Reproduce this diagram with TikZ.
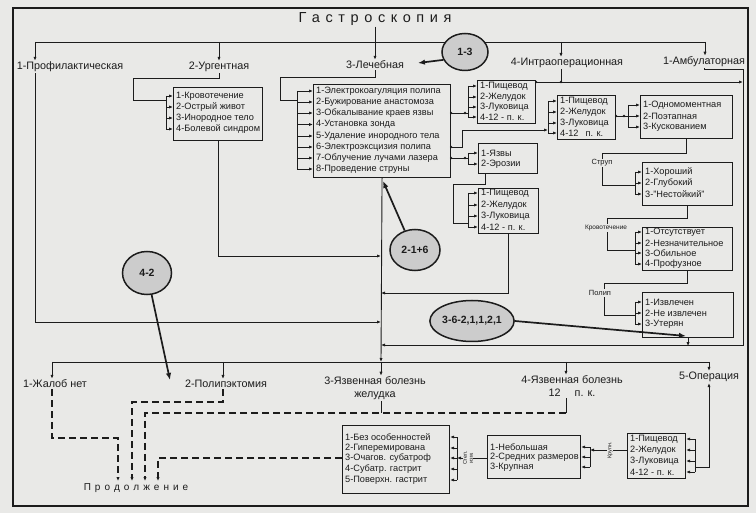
\documentclass[tikz,border=0pt]{standalone}
\usepackage{fontspec}
\setmainfont{Liberation Sans}
\usetikzlibrary{arrows.meta,shapes.geometric,calc}
\definecolor{paper}{RGB}{233,233,231}
\definecolor{ink}{RGB}{28,28,28}
\definecolor{ovalfill}{RGB}{204,204,204}
\newcommand{\lsp}[2]{#1\kern#2}
\tikzset{
  conn/.style={draw=ink, line width=0.9pt},
  arr/.style={conn, -{Latex[length=4pt,width=3.2pt]}},
  larr/.style={conn, {Latex[length=4pt,width=3.2pt]}-},
  darr/.style={conn, line width=1.1pt, dash pattern=on 7pt off 4pt, -{Latex[length=4pt,width=3.4pt]}},
  bigarr/.style={draw=ink, line width=1.7pt, -{Latex[length=7pt,width=5.5pt]}},
  listbox/.style={draw=ink, line width=1.1pt, anchor=north west, inner sep=0pt},
  item/.style={font=\fontsize{9.2}{10}\selectfont, anchor=west, inner sep=1pt, text=ink},
  head/.style={font=\fontsize{10.8}{13}\selectfont, inner sep=1pt, text=ink},
  small/.style={font=\fontsize{7.5}{8}\selectfont, inner sep=1pt, fill=paper, text=ink},
  tiny/.style={font=\fontsize{5.5}{6}\selectfont, inner sep=0.5pt, fill=paper, text=ink, align=center},
  oval/.style={ellipse, draw=ink, line width=1.5pt, fill=ovalfill, text=ink,
    font=\bfseries\fontsize{10.5}{12}\selectfont, inner sep=0pt},
  jdot/.style={circle, fill=ink, inner sep=0pt, minimum size=2.6pt},
}
\begin{document}
\begin{tikzpicture}[x=1pt,y=-1pt]
\fill[paper] (0,0) rectangle (756,513);
\useasboundingbox (0,0) rectangle (756,513);
\draw[ink, line width=1.4pt] (13,8) rectangle (748,506);

% ---------- title and first level ----------
\node[text=ink, inner sep=1pt] (title) at (375,19) {\fontsize{14.5}{16}\selectfont
  \lsp{Г}{5.6pt}\lsp{а}{5.6pt}\lsp{с}{5.6pt}\lsp{т}{5.6pt}\lsp{р}{5.6pt}\lsp{о}{5.6pt}\lsp{с}{5.6pt}\lsp{к}{5.6pt}\lsp{о}{5.6pt}\lsp{п}{5.6pt}\lsp{и}{5.6pt}я};

\node[head] (prof)  at (70,67)  {1-Профилактическая};
\node[head] (urg)   at (219,67) {2-Ургентная};
\node[head] (lech)  at (375,65) {3-Лечебная};
\node[head] (intra) at (567,63) {4-Интраоперационная};
\node[head] (amb)   at (704,62) {1-Амбулаторная};

\coordinate (t1) at (35,42);
\coordinate (t2) at (219,42);
\coordinate (t4) at (561,42);
\coordinate (t5) at (705,42);
\draw[conn] (t1) -- (t5);
\draw[arr] (t1) -- (t1 |- prof.north);
\draw[arr] (t2) -- (t2 |- urg.north);
\draw[arr] (t4) -- (t4 |- intra.north);
\draw[arr] (t5) -- (t5 |- amb.north);
\draw[arr] (title.south) -- (title.south |- lech.north);

% ---------- ellipses ----------
\node[oval, minimum width=46pt, minimum height=37pt] (e13) at (465,52) {1-3};
\node[oval, minimum width=50pt, minimum height=41pt] (e216) at (415,250) {2-1+6};
\node[oval, minimum width=80pt, minimum height=41pt] (e36) at (472,321) {3-6-2,1,1,2,1};
\node[oval, minimum width=49pt, minimum height=43pt] (e42) at (147,273) {4-2};

% ---------- urgent box ----------
\node[listbox, minimum width=89pt, minimum height=53pt] (kr) at (173,87) {};
\node[item] (kr1) at (175,96)  {1-Кровотечение};
\node[item] (kr2) at (175,107) {2-Острый живот};
\node[item] (kr3) at (175,118) {3-Инородное тело};
\node[item] (kr4) at (175,129) {4-Болевой синдром};
\coordinate (krb) at (166,0);
\draw[conn] (krb |- kr1) -- (krb |- kr4);
\foreach \i in {1,...,4} \draw[arr] (krb |- kr\i) -- (kr.west |- kr\i);
\draw[conn] (urg.south) |- (133,78) |- (166,100);

% ---------- treatment box ----------
\node[listbox, minimum width=137pt, minimum height=93pt] (lbox) at (313,84) {};
\node[item] (l1) at (315,91)  {1-Электрокоагуляция полипа};
\node[item] (l2) at (315,102) {2-Бужирование анастомоза};
\node[item] (l3) at (315,113) {3-Обкалывание краев язвы};
\node[item] (l4) at (315,124.5) {4-Установка зонда};
\node[item] (l5) at (315,136) {5-Удаление инородного тела};
\node[item] (l6) at (315,147) {6-Электроэксцизия полипа};
\node[item] (l7) at (315,158) {7-Облучение лучами лазера};
\node[item] (l8) at (315,169) {8-Проведение струны};
\coordinate (lb) at (297,0);
\draw[conn] (lb |- l1) -- (lb |- l8);
\foreach \i in {1,...,8} \draw[arr] (lb |- l\i) -- (lbox.west |- l\i);
\draw[conn] (lech.south) |- (280,77) |- (297,100);

% ---------- first Pishchevod box ----------
\node[listbox, minimum width=58pt, minimum height=43pt] (p1) at (477,80) {};
\node[item] (p11) at (479,86)  {1-Пищевод};
\node[item] (p12) at (479,97)  {2-Желудок};
\node[item] (p13) at (479,107) {3-Луковица};
\node[item] (p14) at (479,117) {4-12 - п. к.};
\coordinate (p1b) at (468,0);
\draw[conn] (p1b |- p11) -- (p1b |- p14);
\foreach \i in {1,...,4} \draw[arr] (p1b |- p1\i) -- (p1.west |- p1\i);
\draw[conn] (lbox.east |- l3) -- (p1b |- l3);
\node[jdot] at (lbox.east |- l3) {};
\node[jdot] at (465,113) {};

% ---------- yazvy box ----------
\node[listbox, minimum width=59pt, minimum height=30pt] (yz) at (478,143) {};
\node[item] (yz1) at (480,153) {1-Язвы};
\node[item] (yz2) at (480,164) {2-Эрозии};
\coordinate (yzb) at (468,0);
\draw[conn] (yzb |- yz1) -- (yzb |- yz2);
\foreach \i in {1,2} \draw[arr] (yzb |- yz\i) -- (yz.west |- yz\i);
\draw[conn] (lbox.east |- l7) -- (yzb |- l7);
\node[jdot] at (lbox.east |- l7) {};
\node[jdot] at (465,158) {};

% ---------- lower Pishchevod box ----------
\node[listbox, minimum width=60pt, minimum height=45pt] (p3) at (478,188) {};
\node[item] (p31) at (480,193) {1-Пищевод};
\node[item] (p32) at (480,205) {2-Желудок};
\node[item] (p33) at (480,216) {3-Луковица};
\node[item] (p34) at (480,227) {4-12 - п. к.};
\coordinate (p3b) at (468,0);
\draw[conn] (p3b |- p31) -- (p3b |- p34);
\foreach \i in {1,...,4} \draw[arr] (p3b |- p3\i) -- (p3.west |- p3\i);
\draw[conn] ($(yz.south west)+(7,0)$) |- (453,184) |- (468,223);

% ---------- intraoperative Pishchevod box ----------
\node[listbox, minimum width=58pt, minimum height=44pt] (p2) at (557,95) {};
\node[item] (p21) at (559,101) {1-Пищевод};
\node[item] (p22) at (559,112) {2-Желудок};
\node[item] (p23) at (559,123) {3-Луковица};
\node[item] (p24) at (559,133) {4-12\hspace{7pt}п. к.};
\coordinate (p2b) at (548,0);
\draw[conn] (p2b |- p21) -- (p2b |- p24);
\foreach \i in {1,...,4} \draw[arr] (p2b |- p2\i) -- (p2.west |- p2\i);
\draw[arr] (lbox.east |- l6) -| (462,130) -- (548,130);
\node[jdot] at (lbox.east |- l6) {};

\coordinate (j82) at (561,82);
\draw[arr] (p1.east |- j82) -- (743,82);
\draw[conn] (t4 |- intra.south) -- (j82);
\node[jdot] at (j82) {};
\node[jdot] at (p1.east |- j82) {};

% ---------- odnomomentnaya ----------
\node[listbox, minimum width=92pt, minimum height=43pt] (od) at (640,95) {};
\node[item] (od1) at (642,105) {1-Одномоментная};
\node[item] (od2) at (642,116) {2-Поэтапная};
\node[item] (od3) at (642,127) {3-Кускованием};
\coordinate (odb) at (628,0);
\draw[conn] (odb |- od1) -- (odb |- od3);
\foreach \i in {1,...,3} \draw[arr] (odb |- od\i) -- (od.west |- od\i);
\draw[conn] (p2.east |- od2) -- (odb |- od2);
\node[jdot] at (p2.east |- od2) {};
\node[jdot] at (624,116) {};

% ---------- strup ----------
\node[listbox, minimum width=90pt, minimum height=43pt] (hs) at (642,162) {};
\node[item] (hs1) at (644,172) {1-Хороший};
\node[item] (hs2) at (644,183) {2-Глубокий};
\node[item] (hs3) at (644,194) {3-"Нестойкий"};
\coordinate (hsb) at (635,0);
\draw[conn] (hsb |- hs1) -- (hsb |- hs3);
\foreach \i in {1,...,3} \draw[arr] (hsb |- hs\i) -- (hs.west |- hs\i);
\draw[conn] (od.south) |- (602,153) |- (635,185);
\node[small] (lstrup) at (602,163) {Струп};

% ---------- krovotechenie ----------
\node[listbox, minimum width=90pt, minimum height=43pt] (kb) at (642,227) {};
\node[item] (kb1) at (644,232) {1-Отсутствует};
\node[item] (kb2) at (644,243) {2-Незначительное};
\node[item] (kb3) at (644,253) {3-Обильное};
\node[item] (kb4) at (644,264) {4-Профузное};
\coordinate (kbb) at (635,0);
\draw[conn] (kbb |- kb1) -- (kbb |- kb4);
\foreach \i in {1,...,4} \draw[arr] (kbb |- kb\i) -- (kb.west |- kb\i);
\draw[conn] (hs.south) |- (607,218) |- (635,250);
\node[small, font=\fontsize{6.5}{7}\selectfont] (lkrov) at (606,228) {Кровотечение};

% ---------- polip ----------
\node[listbox, minimum width=91pt, minimum height=45pt] (pb) at (642,292) {};
\node[item] (pb1) at (644,302) {1-Извлечен};
\node[item] (pb2) at (644,313) {2-Не извлечен};
\node[item] (pb3) at (644,324) {3-Утерян};
\coordinate (pbb) at (635,0);
\draw[conn] (pbb |- pb1) -- (pbb |- pb3);
\foreach \i in {1,...,3} \draw[arr] (pbb |- pb\i) -- (pb.west |- pb\i);
\draw[conn] (kb.south) |- (604,283) |- (635,315);
\node[small] (lpolip) at (600,293) {Полип};
\draw[arr] (pb.south) -- ++(0,8);

% ---------- collectors into centre line ----------
\coordinate (u1) at (52,362);
\coordinate (u2) at (223,362);
\coordinate (u3) at (381,362);
\coordinate (u4) at (566,362);
\coordinate (u5) at (709,362);
\draw[arr] (lbox.south) -- (u3);
\draw[arr] (kr.south) |- (381,256);
\draw[arr] (p3.south) |- (381,293);
\draw[arr] (t1 |- prof.south) |- (381,322);
\draw[arr] (amb.south) |- (743,69) -- (743,345) -- (381,345);

% ---------- ellipse arrows ----------
\draw[bigarr] (e13.200) -- (418,63);
\draw[bigarr] (e216.118) -- (383,181);
\draw[bigarr] (e36.east) -- (686,336);
\draw[bigarr] (e42.282) -- (170,380);

% ---------- second level ----------
\node[head] (zh)  at (55,384)  {1-Жалоб нет};
\node[head] (pol) at (226,384) {2-Полипэктомия};
\node[head, align=center] (yzg) at (375,388.5) {3-Язвенная болезнь\\желудка};
\node[head, align=center] (yzd) at (572,386.5) {4-Язвенная болезнь\\12\hspace{14pt}п. к.};
\node[head] (op)  at (709,377) {5-Операция};
\draw[conn] (u1) -- (u5);
\draw[arr] (u1) -- (u1 |- zh.north);
\draw[arr] (u2) -- (u2 |- pol.north);
\draw[arr] (u3) -- (u3 |- yzg.north);
\draw[arr] (u4) -- (u4 |- yzd.north);
\draw[arr] (u5) -- (u5 |- op.north);

% ---------- continuation ----------
\node[text=ink, inner sep=1pt] (prod) at (136,488) {\fontsize{10}{12}\selectfont
  \lsp{П}{4pt}\lsp{р}{4pt}\lsp{о}{4pt}\lsp{д}{4pt}\lsp{о}{4pt}\lsp{л}{4pt}\lsp{ж}{4pt}\lsp{е}{4pt}\lsp{н}{4pt}\lsp{и}{4pt}е};

% ---------- bez osobennostey ----------
\node[listbox, minimum width=107pt, minimum height=68pt] (bo) at (342,425) {};
\node[item] (bo1) at (344,437) {1-Без особенностей};
\node[item] (bo2) at (344,448) {2-Гиперемирована};
\node[item] (bo3) at (344,458) {3-Очагов. субатроф};
\node[item] (bo4) at (344,469) {4-Субатр. гастрит};
\node[item] (bo5) at (344,480) {5-Поверхн. гастрит};
\coordinate (bob) at (457,0);
\draw[conn] (bob |- bo1) -- (bob |- bo5);
\foreach \i in {1,...,5} \draw[arr] (bob |- bo\i) -- (bo.east |- bo\i);

% ---------- nebolshaya ----------
\node[listbox, minimum width=93pt, minimum height=43pt] (nb) at (487,435) {};
\node[item] (nb1) at (489,447) {1-Небольшая};
\node[item] (nb2) at (489,457) {2-Средних размеров};
\node[item] (nb3) at (489,467) {3-Крупная};
\coordinate (nbb) at (590,0);
\draw[conn] (nbb |- nb1) -- (nbb |- nb3);
\foreach \i in {1,...,3} \draw[arr] (nbb |- nb\i) -- (nb.east |- nb\i);
\draw[arr] (nb.west |- bo3) -- (bob |- bo3);
\node[tiny, rotate=90] (lstep) at (468,458) {Степ.\\изм.};

% ---------- operation Pishchevod box ----------
\node[listbox, minimum width=58pt, minimum height=45pt] (p4) at (627,433) {};
\node[item] (p41) at (629,439) {1-Пищевод};
\node[item] (p42) at (629,450) {2-Желудок};
\node[item] (p43) at (629,461) {3-Луковица};
\node[item] (p44) at (629,472) {4-12 - п. к.};
\coordinate (p4b) at (695,0);
\draw[conn] (p4b |- p41) -- (p4b |- p44);
\foreach \i in {1,...,4} \draw[arr] (p4b |- p4\i) -- (p4.east |- p4\i);
\draw[larr] (op.south) |- (695,467);
\draw[arr] (p4.west |- p42) -- (nbb |- p42);
\node[tiny, rotate=90] (lkrup) at (610,450) {Крупн.};

% ---------- dashed continuation lines ----------
\draw[darr] (u1 |- zh.south) |- (118,438) -- (118,481);
\draw[darr] (u2 |- pol.south) |- (132,402) -- (132,481);
\draw[conn] (u3 |- yzg.south) -- (381,413);
\draw[conn] (u4 |- yzd.south) -- (566,413);
\draw[darr] (566,413) -| (145,481);
\draw[darr] (bo.west |- bo3) -| (158,481);
\end{tikzpicture}
\end{document}
